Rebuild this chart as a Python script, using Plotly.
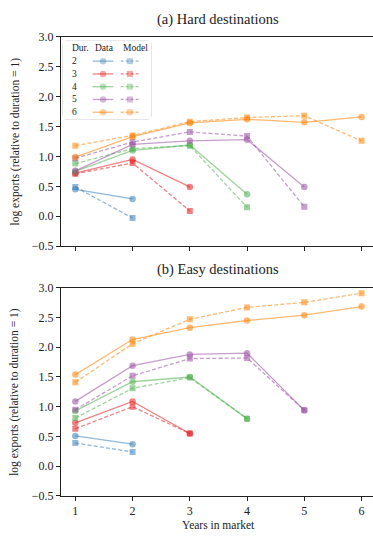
import plotly.graph_objects as go

# Years in market and exporter durations
years = [1, 2, 3, 4, 5, 6]
durations = [2, 3, 4, 5, 6]

# Panel (a): hard destinations -- data and model, one list per duration
hard_data = {
    2: [0.45, 0.29],
    3: [0.72, 0.95, 0.49],
    4: [0.75, 1.10, 1.19, 0.37],
    5: [0.76, 1.20, 1.26, 1.28, 0.49],
    6: [0.99, 1.33, 1.56, 1.62, 1.57, 1.66],
}
hard_model = {
    2: [0.49, -0.03],
    3: [0.71, 0.89, 0.09],
    4: [0.88, 1.13, 1.18, 0.15],
    5: [0.97, 1.24, 1.41, 1.34, 0.16],
    6: [1.18, 1.35, 1.58, 1.65, 1.68, 1.26],
}

# Panel (b): easy destinations
easy_data = {
    2: [0.51, 0.37],
    3: [0.73, 1.09, 0.55],
    4: [0.93, 1.42, 1.50, 0.80],
    5: [1.09, 1.69, 1.88, 1.90, 0.94],
    6: [1.54, 2.13, 2.33, 2.45, 2.54, 2.685],
}
easy_model = {
    2: [0.39, 0.24],
    3: [0.63, 1.00, 0.55],
    4: [0.81, 1.31, 1.49, 0.80],
    5: [0.95, 1.52, 1.81, 1.82, 0.94],
    6: [1.41, 2.06, 2.47, 2.67, 2.755, 2.91],
}

y_ticks = [-0.5, 0.0, 0.5, 1.0, 1.5, 2.0, 2.5, 3.0]

# Set1-style colours drawn with transparency
base_rgb = {
    2: (55, 126, 184),
    3: (228, 26, 28),
    4: (77, 175, 74),
    5: (152, 78, 163),
    6: (255, 127, 0),
}
ALPHA = 0.55


def rgba(d, a=ALPHA):
    r, g, b = base_rgb[d]
    return f"rgba({r},{g},{b},{a})"


W, H = 373, 538
FONT = "Liberation Serif, DejaVu Serif, serif"
LW = 1.3
DASH = "4px,2.2px"

fig = go.Figure()

panels = [
    (hard_data, hard_model, "x", "y"),
    (easy_data, easy_model, "x2", "y2"),
]
for data, model, xa, ya in panels:
    for d in durations:
        fig.add_trace(go.Scatter(
            x=years[:d], y=data[d], xaxis=xa, yaxis=ya,
            mode="lines+markers", showlegend=False, hoverinfo="skip",
            line=dict(color=rgba(d), width=LW),
            marker=dict(symbol="circle", size=6.5, color=rgba(d), line=dict(width=0)),
        ))
        fig.add_trace(go.Scatter(
            x=years[:d], y=model[d], xaxis=xa, yaxis=ya,
            mode="lines+markers", showlegend=False, hoverinfo="skip",
            line=dict(color=rgba(d), width=LW, dash=DASH),
            marker=dict(symbol="square", size=6, color=rgba(d), line=dict(width=0)),
        ))

# Legend table drawn on its own small axis pair: rows are durations
leg_box = (63, 151, 35, 115)  # left, right, top, bottom in px
data_seg = [0.337, 0.455, 0.571]
model_seg = [0.655, 0.76, 0.867]
for d in durations:
    fig.add_trace(go.Scatter(
        x=data_seg, y=[d] * 3, xaxis="x3", yaxis="y3",
        mode="lines+markers", showlegend=False, hoverinfo="skip",
        line=dict(color=rgba(d), width=LW),
        marker=dict(symbol="circle", size=[0, 6.5, 0], color=rgba(d), line=dict(width=0)),
    ))
    fig.add_trace(go.Scatter(
        x=model_seg, y=[d] * 3, xaxis="x3", yaxis="y3",
        mode="lines+markers", showlegend=False, hoverinfo="skip",
        line=dict(color=rgba(d), width=LW, dash="3px,2px"),
        marker=dict(symbol="square", size=[0, 6, 0], color=rgba(d), line=dict(width=0)),
    ))

x_dom = [61 / W, 1.0]
ya_dom = [1 - 245.6 / H, 1 - 30.5 / H]
yb_dom = [1 - 502.0 / H, 1 - 288.3 / H]

axis_common = dict(
    showgrid=False, zeroline=False, showline=True, linecolor="#222", linewidth=1,
    ticks="outside", ticklen=4, tickwidth=1, tickcolor="#222",
    tickfont=dict(family=FONT, size=12, color="#222"),
)

xa = dict(axis_common, range=[0.75, 6.2], tickvals=years, mirror=True, domain=x_dom)
ya = dict(axis_common, range=[-0.5, 3.0], tickvals=y_ticks, tickformat=".1f", domain=ya_dom)

fig.update_layout(
    width=W, height=H,
    margin=dict(l=0, r=0, t=0, b=0),
    paper_bgcolor="white", plot_bgcolor="white",
    font=dict(family=FONT, color="#222"),
    xaxis=dict(xa, anchor="y", showticklabels=False),
    yaxis=dict(ya, anchor="x"),
    xaxis2=dict(xa, anchor="y2"),
    yaxis2=dict(ya, anchor="x2", domain=yb_dom),
    xaxis3=dict(domain=[leg_box[0] / W, leg_box[1] / W], range=[0, 1],
                visible=False, anchor="y3", fixedrange=True),
    yaxis3=dict(domain=[1 - leg_box[3] / H, 1 - leg_box[2] / H], range=[6.53, 0.43],
                visible=False, anchor="x3", fixedrange=True),
)

# Legend frame with rounded corners (paper coordinates)
l, r = leg_box[0] / W, leg_box[1] / W
t, b = 1 - leg_box[2] / H, 1 - leg_box[3] / H
rx, ry = 3 / W, 3 / H
frame = (f"M {l+rx},{t} L {r-rx},{t} Q {r},{t} {r},{t-ry} L {r},{b+ry} Q {r},{b} {r-rx},{b} "
         f"L {l+rx},{b} Q {l},{b} {l},{b+ry} L {l},{t-ry} Q {l},{t} {l+rx},{t} Z")
fig.add_shape(type="path", path=frame, xref="paper", yref="paper",
              line=dict(color="#cccccc", width=1), fillcolor="rgba(255,255,255,0.85)",
              layer="below")

leg_font = dict(family=FONT, size=9.5, color="#222")
fig.add_annotation(x=0.08, y=1, xref="x3", yref="y3", text="Dur.", showarrow=False,
                   xanchor="left", yanchor="middle", font=leg_font)
fig.add_annotation(x=0.466, y=1, xref="x3", yref="y3", text="Data", showarrow=False,
                   xanchor="center", yanchor="middle", font=leg_font)
fig.add_annotation(x=0.826, y=1, xref="x3", yref="y3", text="Model", showarrow=False,
                   xanchor="center", yanchor="middle", font=leg_font)
for d in durations:
    fig.add_annotation(x=0.08, y=d, xref="x3", yref="y3", text=str(d), showarrow=False,
                       xanchor="left", yanchor="middle", font=leg_font)

# Panel titles, shared y label and x label
title_font = dict(family=FONT, size=14.5, color="#222")
cx = (61 + 376) / 2 / W
fig.add_annotation(x=cx, y=1 - 13 / H, xref="paper", yref="paper",
                   text="(a) Hard destinations", showarrow=False, font=title_font,
                   xanchor="center", yanchor="middle")
fig.add_annotation(x=cx, y=1 - 270 / H, xref="paper", yref="paper",
                   text="(b) Easy destinations", showarrow=False, font=title_font,
                   xanchor="center", yanchor="middle")

lab_font = dict(family=FONT, size=11.5, color="#222")
for dom in (ya_dom, yb_dom):
    fig.add_annotation(x=15 / W, y=(dom[0] + dom[1]) / 2, xref="paper", yref="paper",
                       text="log exports (relative to duration = 1)", textangle=-90,
                       showarrow=False, font=lab_font, xanchor="center", yanchor="middle")
fig.add_annotation(x=cx, y=1 - 532 / H, xref="paper", yref="paper",
                   text="Years in market", showarrow=False, font=lab_font,
                   xanchor="center", yanchor="middle")

fig.write_html("out.html")
